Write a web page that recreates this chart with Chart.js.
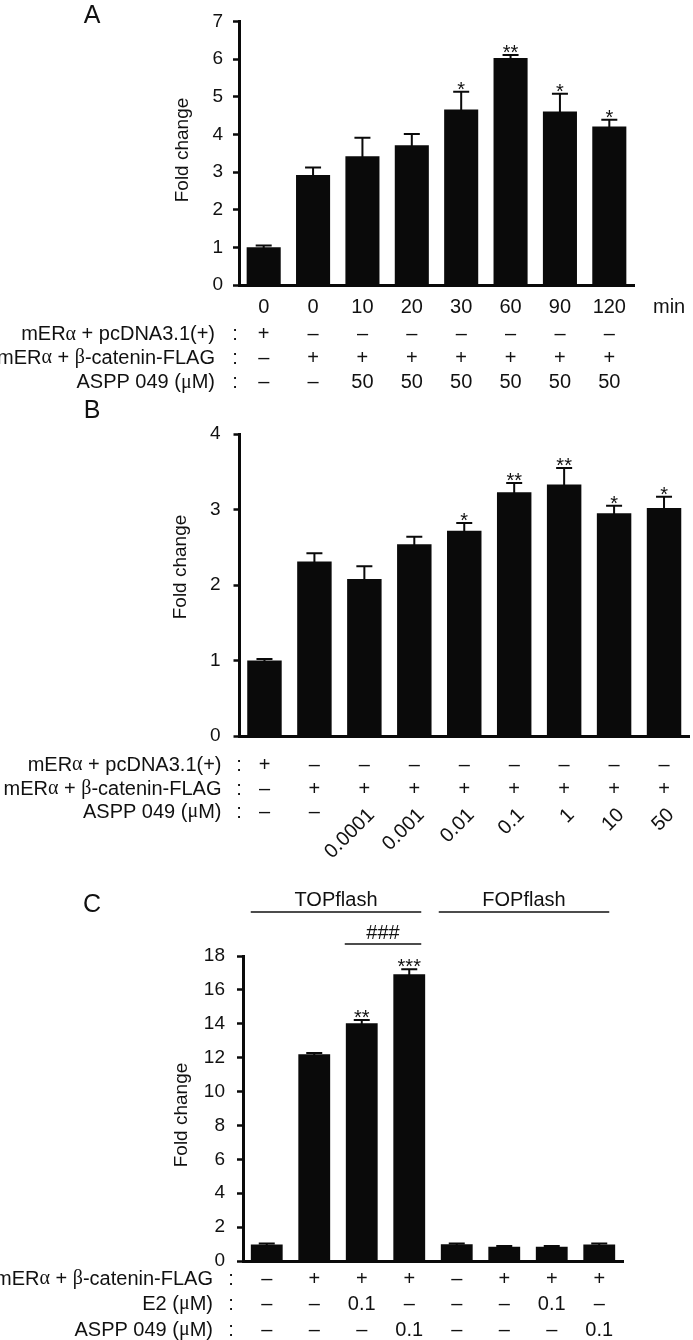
<!DOCTYPE html>
<html>
<head>
<meta charset="utf-8">
<script src="https://cdn.jsdelivr.net/npm/chart.js@4.4.1/dist/chart.umd.min.js"></script>
<style>
  html, body { margin: 0; padding: 0; background: #fff; }
  #page { position: relative; width: 693px; height: 1340px; overflow: hidden; }
  canvas { position: absolute; left: 0; }
</style>
</head>
<body>
<div id="page">
  <canvas id="panel-a" width="693" height="400" style="top:0px"></canvas>
  <canvas id="panel-b" width="693" height="485" style="top:400px"></canvas>
  <canvas id="panel-c" width="693" height="455" style="top:885px"></canvas>
</div>
<script>
// Panel A: time course with ASPP 049 (50 uM)
const timeLabels = ["0", "0", "10", "20", "30", "60", "90", "120"];
const foldA = [1.0, 2.92, 3.42, 3.71, 4.66, 6.03, 4.61, 4.21];
const semA = [0.05, 0.2, 0.49, 0.3, 0.47, 0.08, 0.47, 0.18];
const starsA = ["", "", "", "", "*", "**", "*", "*"];
const pcdnaA = ["+", "–", "–", "–", "–", "–", "–", "–"];
const bcatA = ["–", "+", "+", "+", "+", "+", "+", "+"];
const asppA = ["–", "–", "50", "50", "50", "50", "50", "50"];

// Panel B: dose response
const foldB = [1.0, 2.31, 2.08, 2.54, 2.72, 3.23, 3.33, 2.95, 3.02];
const semB = [0.02, 0.11, 0.17, 0.1, 0.1, 0.12, 0.22, 0.1, 0.15];
const starsB = ["", "", "", "", "*", "**", "**", "*", "*"];
const pcdnaB = ["+", "–", "–", "–", "–", "–", "–", "–", "–"];
const bcatB = ["–", "+", "+", "+", "+", "+", "+", "+", "+"];
const doseB = ["–", "–", "0.0001", "0.001", "0.01", "0.1", "1", "10", "50"];

// Panel C: TOPflash / FOPflash
const foldC = [0.98, 12.2, 14.03, 16.92, 0.99, 0.84, 0.84, 0.98];
const semC = [0.05, 0.08, 0.2, 0.3, 0.05, 0.04, 0.04, 0.05];
const starsC = ["", "", "**", "***", "", "", "", ""];
const bcatC = ["–", "+", "+", "+", "–", "+", "+", "+"];
const e2C = ["–", "–", "0.1", "–", "–", "–", "0.1", "–"];
const asppC = ["–", "–", "–", "0.1", "–", "–", "–", "0.1"];

const INK = "#111";
const BAR = "#0a0a0a";
const SANS = "'Liberation Sans', Arial, Helvetica, sans-serif";
const SERIF = "'Liberation Serif', 'Times New Roman', serif";
const GREEK = /[αβμ]/;
const CAP = 16;
const TABLE_FONT = 20;

Chart.defaults.font.family = SANS;
Chart.defaults.color = INK;

function fontFor(run, size) {
  return `${size}px ${GREEK.test(run) ? SERIF : SANS}`;
}

// right-aligned text with Greek letters set in a serif face
function drawLabel(ctx, text, xRight, y, size = TABLE_FONT) {
  const runs = text.split(/([αβμ])/).filter(Boolean);
  const widths = runs.map((r) => {
    ctx.font = fontFor(r, size);
    return ctx.measureText(r).width;
  });
  let x = xRight - widths.reduce((a, b) => a + b, 0);
  ctx.textAlign = "left";
  runs.forEach((r, i) => {
    ctx.font = fontFor(r, size);
    ctx.fillText(r, x, y);
    x += widths[i];
  });
}

function panelPlugin(p) {
  return {
    id: "panel-" + p.letter,
    afterDatasetsDraw(chart) {
      const ctx = chart.ctx;
      const y = chart.scales.y;
      ctx.save();
      ctx.strokeStyle = BAR;
      ctx.fillStyle = INK;
      ctx.lineWidth = 2;
      chart.getDatasetMeta(0).data.forEach((bar, i) => {
        const top = y.getPixelForValue(p.values[i] + p.sem[i]);
        ctx.beginPath();
        ctx.moveTo(bar.x, bar.y + 1);
        ctx.lineTo(bar.x, top);
        ctx.moveTo(bar.x - CAP / 2, top);
        ctx.lineTo(bar.x + CAP / 2, top);
        ctx.stroke();
        if (p.stars[i]) {
          ctx.font = `20px ${SANS}`;
          ctx.textAlign = "center";
          ctx.textBaseline = "alphabetic";
          ctx.fillText(p.stars[i], bar.x, top + 4);
        }
      });
      ctx.restore();
    },
    afterDraw(chart) {
      const ctx = chart.ctx;
      const x = chart.scales.x;
      const off = p.top;
      ctx.save();
      ctx.fillStyle = INK;
      ctx.textBaseline = "middle";

      ctx.font = `25px ${SANS}`;
      ctx.textAlign = "center";
      ctx.fillText(p.letter, p.letterPos[0], p.letterPos[1] - off);

      ctx.save();
      ctx.translate(p.titlePos[0], p.titlePos[1] - off);
      ctx.rotate(-Math.PI / 2);
      ctx.font = `19px ${SANS}`;
      ctx.fillText("Fold change", 0, 0);
      ctx.restore();

      for (const row of p.rows) {
        const ry = row.y - off;
        ctx.font = `${TABLE_FONT}px ${SANS}`;
        if (row.header) {
          drawLabel(ctx, row.header, p.headerRight, ry);
          ctx.font = `${TABLE_FONT}px ${SANS}`;
          ctx.textAlign = "center";
          ctx.fillText(":", p.colon, ry);
        }
        row.cells.forEach((cell, i) => {
          const cx = x.getPixelForValue(i);
          if (row.rotateFrom != null && i >= row.rotateFrom) {
            ctx.save();
            ctx.translate(cx + 7, ry);
            ctx.rotate(-Math.PI / 4);
            ctx.textAlign = "right";
            ctx.fillText(cell, 0, 0);
            ctx.restore();
          } else {
            ctx.textAlign = "center";
            ctx.fillText(cell, cx, ry);
          }
        });
        if (row.unit) {
          ctx.textAlign = "left";
          ctx.fillText(row.unit, row.unitX, ry);
        }
      }

      if (p.extras) p.extras(chart, ctx, off);
      ctx.restore();
    },
  };
}

function makePanel(id, p) {
  const canvas = document.getElementById(id);
  const a = p.area;
  return new Chart(canvas, {
    type: "bar",
    data: {
      labels: p.labels,
      datasets: [{
        data: p.values,
        backgroundColor: BAR,
        borderWidth: 0,
        barPercentage: p.barPct,
        categoryPercentage: 1.0,
      }],
    },
    options: {
      responsive: false,
      animation: false,
      events: [],
      layout: {
        padding: {
          left: a.left - 60,
          right: canvas.width - a.right,
          top: a.top - p.top,
          bottom: canvas.height - (a.bottom - p.top),
        },
      },
      plugins: { legend: { display: false }, tooltip: { enabled: false } },
      scales: {
        x: {
          ticks: { display: false },
          grid: { display: false, drawTicks: false },
          border: { display: true, color: BAR, width: 3 },
          afterFit: (scale) => { scale.height = 0; },
        },
        y: {
          min: 0,
          max: p.max,
          ticks: { stepSize: p.step, padding: p.tickPad, color: INK, font: { size: 19 } },
          grid: {
            display: true,
            drawOnChartArea: false,
            drawTicks: true,
            tickLength: 6,
            tickWidth: 2.5,
            tickColor: BAR,
          },
          border: { display: true, color: BAR, width: 3 },
          afterFit: (scale) => { scale.width = 60; },
        },
      },
    },
    plugins: [panelPlugin(p)],
  });
}

makePanel("panel-a", {
  letter: "A",
  top: 0,
  area: { left: 239, right: 634, top: 20, bottom: 285 },
  labels: timeLabels,
  values: foldA,
  sem: semA,
  stars: starsA,
  max: 7,
  step: 1,
  tickPad: 10,
  barPct: 0.69,
  letterPos: [92, 16],
  titlePos: [183, 150],
  headerRight: 215,
  colon: 235,
  rows: [
    { y: 307, cells: timeLabels, unit: "min", unitX: 653 },
    { y: 334.5, header: "mERα + pcDNA3.1(+)", cells: pcdnaA },
    { y: 358, header: "mERα + β-catenin-FLAG", cells: bcatA },
    { y: 382.5, header: "ASPP 049 (μM)", cells: asppA },
  ],
});

makePanel("panel-b", {
  letter: "B",
  top: 400,
  area: { left: 239.5, right: 689, top: 434, bottom: 736 },
  labels: doseB,
  values: foldB,
  sem: semB,
  stars: starsB,
  max: 4,
  step: 1,
  tickPad: 13,
  barPct: 0.69,
  letterPos: [92, 411],
  titlePos: [181, 567],
  headerRight: 221.5,
  colon: 239,
  rows: [
    { y: 765, header: "mERα + pcDNA3.1(+)", cells: pcdnaB },
    { y: 789, header: "mERα + β-catenin-FLAG", cells: bcatB },
    { y: 812, header: "ASPP 049 (μM)", cells: doseB, rotateFrom: 2 },
  ],
});

makePanel("panel-c", {
  letter: "C",
  top: 885,
  area: { left: 243, right: 623, top: 956, bottom: 1261 },
  labels: bcatC.map((_, i) => String(i + 1)),
  values: foldC,
  sem: semC,
  stars: starsC,
  max: 18,
  step: 2,
  tickPad: 12,
  barPct: 0.67,
  letterPos: [92, 905],
  titlePos: [181.5, 1115],
  headerRight: 213,
  colon: 231,
  rows: [
    { y: 1279, header: "mERα + β-catenin-FLAG", cells: bcatC },
    { y: 1304, header: "E2 (μM)", cells: e2C },
    { y: 1330, header: "ASPP 049 (μM)", cells: asppC },
  ],
  extras(chart, ctx, off) {
    const x = chart.scales.x;
    const groups = [
      { text: "TOPflash", from: x.getPixelForValue(0) - 16, to: x.getPixelForValue(3) + 12, ty: 900, ly: 912 },
      { text: "FOPflash", from: x.getPixelForValue(4) - 18, to: x.getPixelForValue(7) + 10, ty: 900, ly: 912 },
      { text: "###", from: x.getPixelForValue(2) - 17, to: x.getPixelForValue(3) + 12, ty: 933, ly: 944 },
    ];
    ctx.strokeStyle = INK;
    ctx.lineWidth = 1.7;
    ctx.font = `20px ${SANS}`;
    ctx.textAlign = "center";
    for (const g of groups) {
      ctx.fillText(g.text, (g.from + g.to) / 2, g.ty - off);
      ctx.beginPath();
      ctx.moveTo(g.from, g.ly - off);
      ctx.lineTo(g.to, g.ly - off);
      ctx.stroke();
    }
  },
});
</script>
</body>
</html>
